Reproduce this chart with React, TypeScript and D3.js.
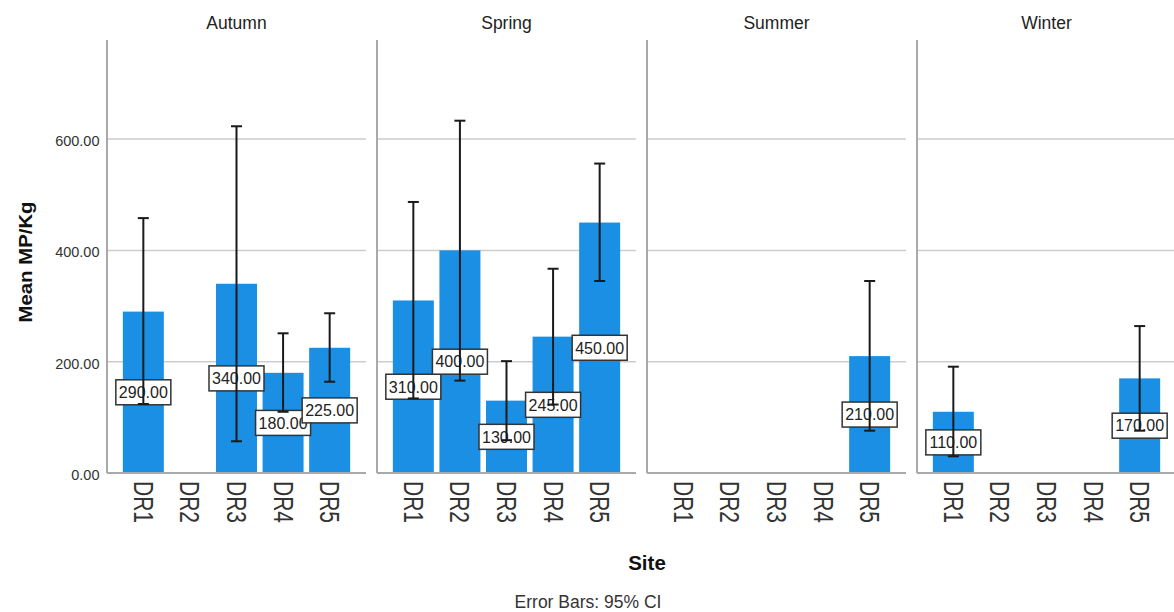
import React from "react";
import * as d3 from "d3";

// Mean MP/Kg by site, faceted by season, with 95% confidence intervals
const seasons = ["Autumn", "Spring", "Summer", "Winter"];
const sites = ["DR1", "DR2", "DR3", "DR4", "DR5"];

const autumnMean = [290, null, 340, 180, 225];
const autumnLow = [124, null, 57, 110, 164];
const autumnHigh = [458, null, 623, 251, 287];

const springMean = [310, 400, 130, 245, 450];
const springLow = [134, 166, 59, 123, 345];
const springHigh = [487, 633, 201, 367, 556];

const summerMean = [null, null, null, null, 210];
const summerLow = [null, null, null, null, 76];
const summerHigh = [null, null, null, null, 345];

const winterMean = [110, null, null, null, 170];
const winterLow = [30, null, null, null, 76];
const winterHigh = [191, null, null, null, 264];

const yTicks = [0, 200, 400, 600];

const seasonSeries = [
  { mean: autumnMean, low: autumnLow, high: autumnHigh },
  { mean: springMean, low: springLow, high: springHigh },
  { mean: summerMean, low: summerLow, high: summerHigh },
  { mean: winterMean, low: winterLow, high: winterHigh },
];

const W = 1174;
const H = 612;
const plotTop = 40;
const plotBottom = 473;
const firstPanelLeft = 107;
const panelWidth = 259;
const panelGap = 11;

const barColor = "#1a8fe4";
const axisColor = "#a9a9a9";
const gridColor = "#cdcdcd";
const font = "'Liberation Sans', Arial, sans-serif";

export default function App() {
  const y = d3.scaleLinear().domain([0, 778]).range([plotBottom, plotTop]);

  const panel = d3
    .scaleBand<string>()
    .domain(seasons)
    .range([firstPanelLeft, firstPanelLeft + seasons.length * panelWidth + (seasons.length - 1) * panelGap])
    .paddingInner(panelGap / (panelWidth + panelGap));

  return (
    <svg
      width={W}
      height={H}
      style={{ position: "absolute", left: 0, top: 0, background: "#fff" }}
      fontFamily={font}
    >
      <rect x={0} y={0} width={W} height={H} fill="#fff" />

      {/* y-axis tick labels */}
      {yTicks.map((t) => (
        <text key={t} x={99.5} y={y(t) + 7} textAnchor="end" fontSize={14.5} fill="#333">
          {d3.format(".2f")(t)}
        </text>
      ))}

      {/* y-axis title */}
      <text
        transform={`translate(32, 262) rotate(-90)`}
        textAnchor="middle"
        fontSize={19}
        fontWeight="bold"
        fill="#111"
        textLength={121}
        lengthAdjust="spacingAndGlyphs"
      >
        Mean MP/Kg
      </text>

      {seasons.map((season, si) => {
        const left = panel(season)!;
        const right = left + panel.bandwidth();
        const x = d3
          .scaleBand<string>()
          .domain(sites)
          .range([left, right])
          .paddingInner(0.12)
          .paddingOuter(0.34);
        const s = seasonSeries[si];
        const rows = sites.map((site, i) => ({
          site,
          mean: s.mean[i],
          low: s.low[i],
          high: s.high[i],
        }));
        return (
          <g key={season}>
            {/* facet title */}
            <text x={(left + right) / 2} y={29} textAnchor="middle" fontSize={17.5} fill="#222">
              {season}
            </text>

            {/* gridlines */}
            {yTicks
              .filter((t) => t > 0)
              .map((t) => (
                <line key={t} x1={left} x2={right} y1={y(t)} y2={y(t)} stroke={gridColor} strokeWidth={1.5} />
              ))}

            {/* bars */}
            {rows.map((r) =>
              r.mean == null ? null : (
                <rect
                  key={r.site}
                  x={x(r.site)!}
                  y={y(r.mean)}
                  width={x.bandwidth()}
                  height={y(0) - y(r.mean)}
                  fill={barColor}
                />
              )
            )}

            {/* axes */}
            <line x1={left} x2={left} y1={plotTop} y2={plotBottom} stroke={axisColor} strokeWidth={2} />
            <line x1={left} x2={right} y1={plotBottom} y2={plotBottom} stroke={axisColor} strokeWidth={2} />

            {/* value labels at bar mid-height */}
            {rows.map((r) => {
              if (r.mean == null) return null;
              const cx = x(r.site)! + x.bandwidth() / 2;
              const cy = (y(r.mean) + y(0)) / 2;
              const bw = 55;
              const bh = 25;
              return (
                <g key={r.site}>
                  <rect
                    x={cx - bw / 2}
                    y={cy - bh / 2}
                    width={bw}
                    height={bh}
                    fill="#fff"
                    stroke="#333"
                    strokeWidth={1.5}
                  />
                  <text x={cx} y={cy + 5.8} textAnchor="middle" fontSize={16} fill="#222">
                    {d3.format(".2f")(r.mean)}
                  </text>
                </g>
              );
            })}

            {/* 95% CI error bars */}
            {rows.map((r) => {
              if (r.low == null || r.high == null) return null;
              const cx = x(r.site)! + x.bandwidth() / 2;
              const cap = 5.5;
              return (
                <g key={r.site} stroke="#1a1a1a" strokeWidth={2}>
                  <line x1={cx} x2={cx} y1={y(r.high)} y2={y(r.low)} />
                  <line x1={cx - cap} x2={cx + cap} y1={y(r.high)} y2={y(r.high)} />
                  <line x1={cx - cap} x2={cx + cap} y1={y(r.low)} y2={y(r.low)} />
                </g>
              );
            })}

            {/* site tick labels, rotated */}
            {sites.map((site) => {
              const cx = x(site)! + x.bandwidth() / 2;
              return (
                <text
                  key={site}
                  transform={`translate(${cx}, 481) rotate(90) scale(1, 1.3)`}
                  textAnchor="start"
                  dominantBaseline="central"
                  fontSize={21}
                  fill="#333"
                >
                  {site}
                </text>
              );
            })}
          </g>
        );
      })}

      {/* x-axis title and footnote */}
      <text x={647} y={570} textAnchor="middle" fontSize={20.5} fontWeight="bold" fill="#111">
        Site
      </text>
      <text x={588} y={608} textAnchor="middle" fontSize={17.5} fill="#333">
        Error Bars: 95% CI
      </text>
    </svg>
  );
}
